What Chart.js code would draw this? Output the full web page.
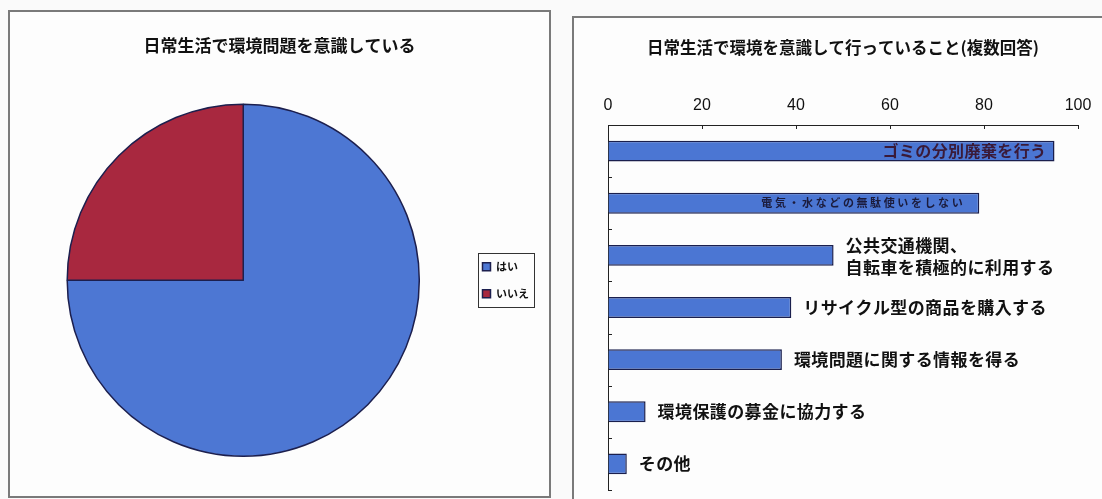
<!DOCTYPE html>
<html lang="ja">
<head>
<meta charset="utf-8">
<title>日常生活と環境</title>
<script src="https://cdn.jsdelivr.net/npm/chart.js@4.4.1/dist/chart.umd.min.js"></script>
<style>
  html, body { margin: 0; padding: 0; background: #fafafa; }
  body { width: 1102px; height: 499px; position: relative; overflow: hidden; }
  .panel { position: absolute; border: 2px solid #7a7a7a; background: #fdfdfd; }
  #pieBox { left: 8px; top: 10px; width: 539px; height: 484px; }
  #barBox { left: 572px; top: 16px; width: 560px; height: 520px; }
  .panel canvas { position: absolute; left: 0; top: 0; }
</style>
</head>
<body>
<div class="panel" id="pieBox"><canvas id="pie" width="539" height="484"></canvas></div>
<div class="panel" id="barBox"><canvas id="bar" width="528" height="478"></canvas></div>
<script>
// 円グラフ: 日常生活で環境問題を意識しているか
const pieLabels = ['はい', 'いいえ'];
const pieValues = [75, 25];

// 横棒グラフ: 意識して行っていること（複数回答）
const barCategories = [
  'ゴミの分別廃棄を行う',
  '電気・水などの無駄使いをしない',
  ['公共交通機関、', '自転車を積極的に利用する'],
  'リサイクル型の商品を購入する',
  '環境問題に関する情報を得る',
  '環境保護の募金に協力する',
  'その他'
];
const barValues = [95, 79, 48, 39, 37, 8, 4];
const axisTicks = [0, 20, 40, 60, 80, 100];

const JP = '"Noto Sans CJK JP", "Noto Sans", sans-serif';
Chart.defaults.font.family = JP;
Chart.defaults.color = '#111';

// 凡例のまわりに枠を描く
const legendFrame = {
  id: 'legendFrame',
  afterDraw(chart) {
    const boxes = chart.legend && chart.legend.legendHitBoxes;
    if (!boxes || !boxes.length) return;
    const padX = 5, padY = 8;
    const left = Math.min(...boxes.map(b => b.left)) - padX;
    const top = Math.min(...boxes.map(b => b.top)) - padY;
    const right = Math.max(...boxes.map(b => b.left + b.width)) + padX;
    const bottom = Math.max(...boxes.map(b => b.top + b.height)) + padY;
    const ctx = chart.ctx;
    ctx.save();
    ctx.strokeStyle = '#333';
    ctx.lineWidth = 1;
    ctx.strokeRect(Math.round(left) + 0.5, Math.round(top) + 0.5,
      Math.round(right - left), Math.round(bottom - top));
    ctx.restore();
  }
};

new Chart(document.getElementById('pie'), {
  type: 'pie',
  data: {
    labels: pieLabels,
    datasets: [{
      data: pieValues,
      backgroundColor: ['#4d77d3', '#a8283f'],
      borderColor: '#1c1f4e',
      borderWidth: 1.5
    }]
  },
  plugins: [legendFrame],
  options: {
    responsive: false,
    animation: false,
    layout: { padding: { top: 23, left: 10, right: 10, bottom: 39 } },
    plugins: {
      title: {
        display: true,
        text: '日常生活で環境問題を意識している',
        font: { size: 17, weight: 'bold', family: JP },
        color: '#111',
        padding: { top: 0, bottom: 48 }
      },
      legend: {
        position: 'right',
        fullSize: false,
        align: 'center',
        labels: {
          boxWidth: 8,
          boxHeight: 8,
          padding: 16,
          font: { size: 11, weight: 'bold', family: JP },
          color: '#111'
        }
      },
      tooltip: { enabled: false }
    }
  }
});

// 軸の内側に短い目盛りを描く
const innerTicks = {
  id: 'innerTicks',
  afterDatasetsDraw(chart) {
    const { ctx, chartArea, scales: { x, y } } = chart;
    const len = 4;
    ctx.save();
    ctx.strokeStyle = '#222';
    ctx.lineWidth = 1;
    ctx.beginPath();
    x.ticks.forEach((t, i) => {
      const px = Math.round(x.getPixelForTick(i)) + 0.5;
      ctx.moveTo(px, chartArea.top);
      ctx.lineTo(px, chartArea.top + len);
    });
    for (let i = 0; i <= y.ticks.length; i++) {
      const py = Math.round(y.getPixelForValue(i - 0.5)) + 0.5;
      ctx.moveTo(chartArea.left, py);
      ctx.lineTo(chartArea.left + len, py);
    }
    ctx.stroke();
    ctx.restore();
  }
};

// 項目名の書式（長い棒は内側右寄せ、短い棒は右側）
const outsideStyle = { inside: false, gap: 12, font: 'bold 17px ' + JP, color: '#111', spacing: 0.4, lineHeight: 22 };
const nameStyles = [
  { inside: true, gap: 8, font: 'bold 16px ' + JP, color: '#3a1a38', spacing: 0.4 },
  { inside: true, gap: 14, font: 'bold 11px ' + JP, color: '#1b1b3c', spacing: 2.6 },
  Object.assign({}, outsideStyle, { shift: 1 }),
  outsideStyle,
  outsideStyle,
  outsideStyle,
  outsideStyle
];

const barNames = {
  id: 'barNames',
  afterDatasetsDraw(chart) {
    const ctx = chart.ctx;
    const bars = chart.getDatasetMeta(0).data;
    const labels = chart.data.labels;
    bars.forEach((bar, i) => {
      const st = nameStyles[i];
      const lines = Array.isArray(labels[i]) ? labels[i] : [labels[i]];
      ctx.save();
      ctx.font = st.font;
      ctx.fillStyle = st.color;
      ctx.letterSpacing = (st.spacing || 0) + 'px';
      ctx.textBaseline = 'middle';
      ctx.textAlign = st.inside ? 'right' : 'left';
      const tx = st.inside ? bar.x - st.gap : bar.x + st.gap;
      const lh = st.lineHeight || 20;
      const y0 = bar.y + (st.shift || 0) - (lines.length - 1) * lh / 2;
      lines.forEach((ln, k) => ctx.fillText(ln, tx, y0 + k * lh));
      ctx.restore();
    });
  }
};

new Chart(document.getElementById('bar'), {
  type: 'bar',
  data: {
    labels: barCategories,
    datasets: [{
      data: barValues,
      backgroundColor: '#4b76d3',
      borderColor: '#1a1f4d',
      borderWidth: 1.5,
      barPercentage: 0.4,
      categoryPercentage: 1
    }]
  },
  plugins: [innerTicks, barNames],
  options: {
    responsive: false,
    animation: false,
    indexAxis: 'y',
    layout: { padding: { top: 20, left: 34, right: 24, bottom: 6 } },
    scales: {
      x: {
        position: 'top',
        min: axisTicks[0],
        max: axisTicks[axisTicks.length - 1],
        afterBuildTicks: axis => { axis.ticks = axisTicks.map(v => ({ value: v })); },
        grid: { drawOnChartArea: false, drawTicks: false },
        border: { color: '#222', width: 1 },
        ticks: {
          padding: 10,
          color: '#111',
          font: { size: 16, family: '"Liberation Sans", Arial, sans-serif' }
        }
      },
      y: {
        grid: { drawOnChartArea: false, drawTicks: false },
        border: { color: '#222', width: 1 },
        ticks: { display: false }
      }
    },
    plugins: {
      title: {
        display: true,
        text: '日常生活で環境を意識して行っていること(複数回答)',
        font: { size: 16.5, weight: 'bold', family: JP },
        color: '#111',
        padding: { top: 0, bottom: 28 }
      },
      legend: { display: false },
      tooltip: { enabled: false }
    }
  }
});
</script>
</body>
</html>
